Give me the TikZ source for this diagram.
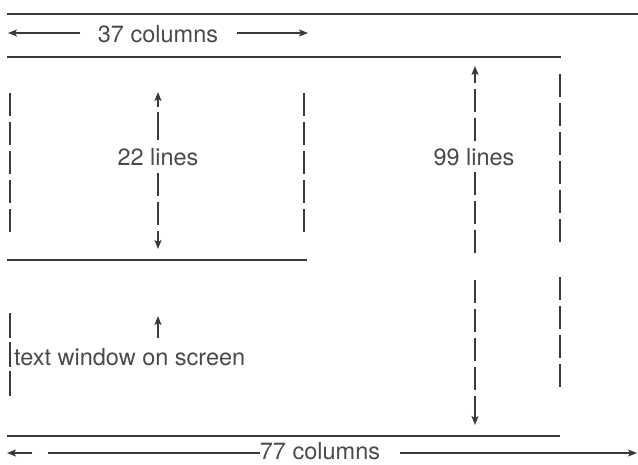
\documentclass[tikz,border=0pt]{standalone}
\usepackage{fontspec}
\setmainfont{TeX Gyre Heros}
\usetikzlibrary{arrows.meta}
\definecolor{ink}{HTML}{3A3A3A}
\definecolor{txt}{HTML}{4A4A4A}
\tikzset{
  rule/.style={draw=ink, line width=1.5pt},
  dimline/.style={draw=ink, line width=1.3pt},
  dash28/.style={draw=ink, line width=1.3pt, dash pattern=on 23pt off 6pt},
  tip/.style={-{Stealth[length=9pt,width=7pt,inset=2pt]}},
  lbl/.style={text=txt, font=\fontsize{23.5}{26}\selectfont, inner sep=0pt},
}
\begin{document}
\begin{tikzpicture}[x=1pt,y=-1pt]
\useasboundingbox (0,0) rectangle (638,464);
% horizontal rules
\coordinate (r1a) at (7,14);   \coordinate (r1b) at (638,14);
\coordinate (r2a) at (7,57);   \coordinate (r2b) at (561,57);
\coordinate (r3a) at (7,260);  \coordinate (r3b) at (307,260);
\coordinate (r4a) at (7,436);  \coordinate (r4b) at (560,436);
\draw[rule] (r1a) -- (r1b);
\draw[rule] (r2a) -- (r2b);
\draw[rule] (r3a) -- (r3b);
\draw[rule] (r4a) -- (r4b);
% labels
\node[lbl] (t37) at (158,34) {37 columns};
\node[lbl] (t22) at (158,157) {22 lines};
\node[lbl] (t99) at (474,157) {99 lines};
\node[lbl, anchor=west] (ttw) at (14,357) {text window on screen};
\node[lbl] (t77) at (320,451) {77 columns};
% 37 columns arrows
\coordinate (c37l0) at (80,33);  \coordinate (c37l1) at (8,33);
\coordinate (c37r0) at (237,33); \coordinate (c37r1) at (308,33);
\draw[dimline, tip] (c37l0) -- (c37l1);
\draw[dimline, tip] (c37r0) -- (c37r1);
% left box verticals
\coordinate (lb1a) at (10,93);  \coordinate (lb1b) at (10,238);
\coordinate (lb2a) at (304,93); \coordinate (lb2b) at (304,238);
\draw[dash28] (lb1a) -- (lb1b);
\draw[dash28] (lb2a) -- (lb2b);
% 22 lines arrow
\coordinate (a22t) at (158,92); \coordinate (a22u) at (158,140);
\coordinate (a22d) at (158,173); \coordinate (a22b) at (158,249);
\draw[dash28, tip, dash pattern=on 28pt off 5pt on 12pt off 40pt] (a22u) -- (a22t);
\draw[dash28, tip] (a22d) -- (a22b);
% right vertical
\coordinate (rv1a) at (560,74);  \coordinate (rv1b) at (560,248);
\coordinate (rv2a) at (560,277); \coordinate (rv2b) at (560,389);
\draw[dash28] (rv1a) -- (rv1b);
\draw[dash28] (rv2a) -- (rv2b);
% 99 lines arrow
\coordinate (a99t) at (475,66);  \coordinate (a99u) at (475,141);
\coordinate (a99d) at (475,172); \coordinate (a99m) at (475,254);
\coordinate (a99n) at (475,280); \coordinate (a99b) at (475,425);
\draw[dash28, tip] (a99u) -- (a99t);
\draw[dash28] (a99d) -- (a99m);
\draw[dash28, tip] (a99n) -- (a99b);
% lower left marks and arrow
\coordinate (ll1) at (10,313); \coordinate (ll2) at (10,397);
\draw[dash28, dash pattern=on 25pt off 4pt] (ll1) -- (ll2);
\coordinate (a3b) at (158,338); \coordinate (a3t) at (158,316);
\draw[dimline, tip] (a3b) -- (a3t);
% 77 columns arrows
\coordinate (c77s0) at (32,453); \coordinate (c77s1) at (7,453);
\draw[dimline, tip] (c77s0) -- (c77s1);
\coordinate (c77l) at (48,453);
\draw[dimline] (c77l) -- (t77.west |- c77l);
\coordinate (c77r0) at (400,453); \coordinate (c77r1) at (637,453);
\draw[dimline, tip] (c77r0) -- (c77r1);
\end{tikzpicture}
\end{document}
